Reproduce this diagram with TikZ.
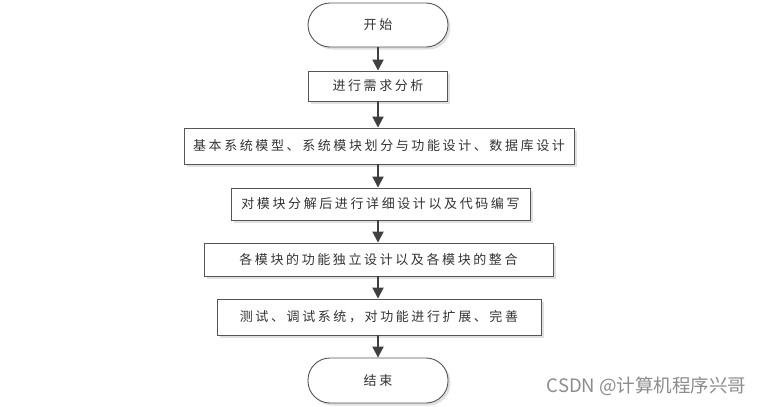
\documentclass[tikz,border=0pt]{standalone}
\usepackage{fontspec}
\newfontfamily\cjk{Noto Sans CJK SC}[LetterSpace=20]
\newfontfamily\wmfont{Noto Sans CJK SC}
\usetikzlibrary{arrows.meta,shadows}
\definecolor{edgegray}{HTML}{555555}
\definecolor{txtgray}{HTML}{333333}
\definecolor{arrgray}{HTML}{404040}
\begin{document}
\begin{tikzpicture}[x=1pt,y=-1pt,
  base/.style={draw=edgegray, line width=0.9pt, fill=white, text=txtgray,
    font=\cjk\fontsize{13pt}{15pt}\selectfont, inner sep=0pt,
    drop shadow={shadow xshift=2.5pt, shadow yshift=-2.5pt, fill=black!12, opacity=1}},
  procbox/.style={base, rectangle},
  pill/.style={base, rectangle, rounded corners=22pt},
  flow/.style={arrgray, line width=2pt, -{Triangle[width=11pt,length=11pt]}}
]
\useasboundingbox (0,0) rectangle (769,407);
\fill[white] (0,0) rectangle (769,407);
\node[pill, minimum width=140pt, minimum height=44pt] (start) at (378,25) {开始};
\node[procbox, minimum width=139pt, minimum height=30pt] (b1) at (378,86) {进行需求分析};
\node[procbox, minimum width=390pt, minimum height=36pt] (b2) at (379,146) {基本系统模型、系统模块划分与功能设计、数据库设计};
\node[procbox, minimum width=299pt, minimum height=32pt] (b3) at (380.5,204) {对模块分解后进行详细设计以及代码编写};
\node[procbox, minimum width=349pt, minimum height=33pt] (b4) at (378.5,259.5) {各模块的功能独立设计以及各模块的整合};
\node[procbox, minimum width=324pt, minimum height=36pt] (b5) at (379,317) {测试、调试系统，对功能进行扩展、完善};
\node[pill, minimum width=140pt, minimum height=45pt] (end) at (378,380.5) {结束};
\draw[flow] (start.south) -- (b1.north);
\draw[flow] (b1.south) -- (b2.north -| b1.south);
\draw[flow] (b2.south -| b1.south) -- (b3.north -| b1.south);
\draw[flow] (b3.south -| b1.south) -- (b4.north -| b1.south);
\draw[flow] (b4.south -| b1.south) -- (b5.north -| b1.south);
\draw[flow] (b5.south -| b1.south) -- (end.north);
\node[text=black!45, font=\wmfont\fontsize{18.5pt}{20pt}\selectfont, inner sep=0pt] (wm) at (646.5,386) {CSDN @计算机程序兴哥};
\end{tikzpicture}
\end{document}
